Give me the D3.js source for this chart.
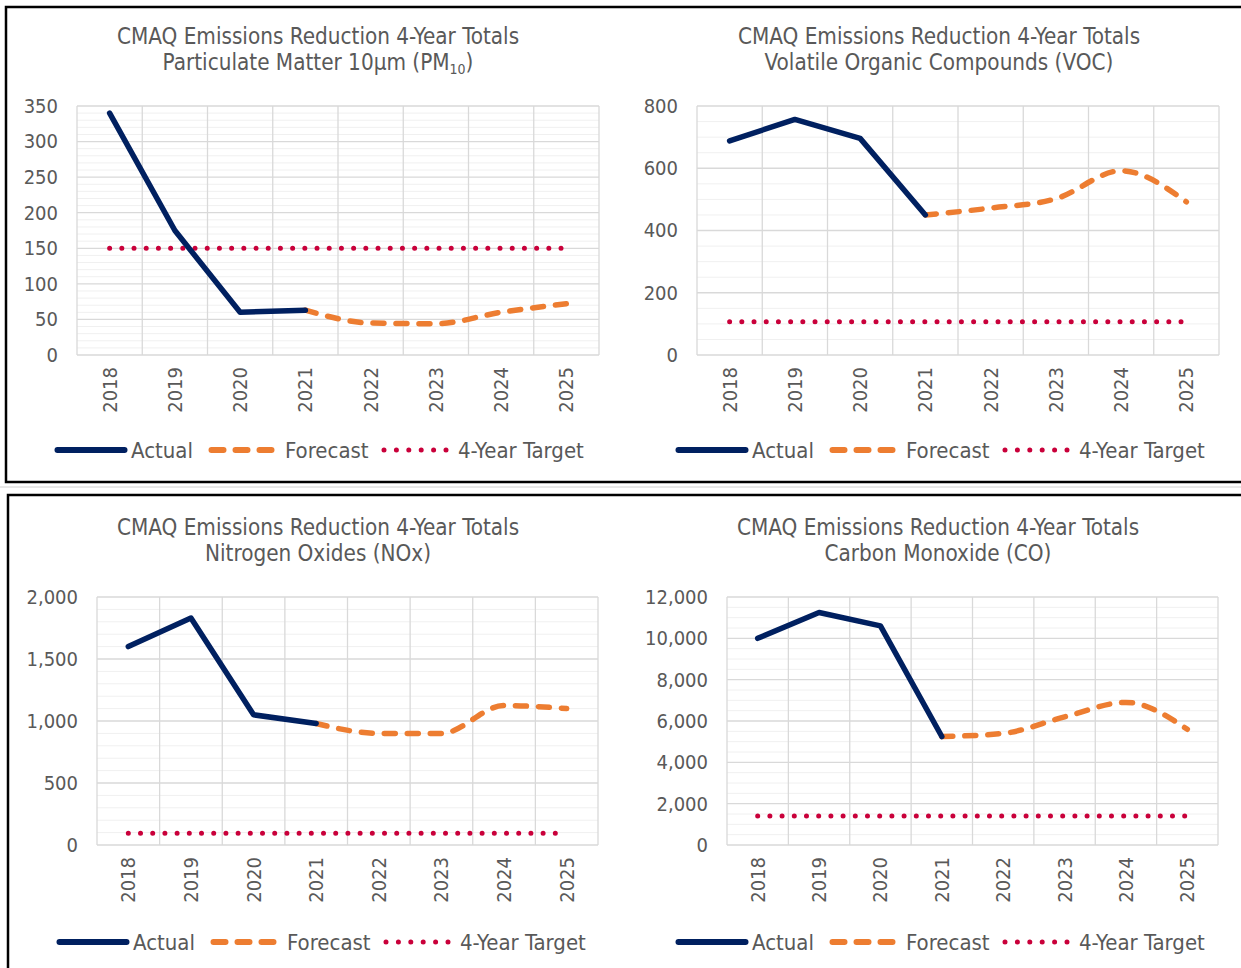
<!DOCTYPE html>
<html>
<head>
<meta charset="utf-8">
<script src="https://cdn.jsdelivr.net/npm/d3@7"></script>
<style>
  html, body { margin: 0; padding: 0; background: #fff; }
  svg { display: block; }
  text { font-family: "DejaVu Sans Condensed", "DejaVu Sans", sans-serif; fill: #595959; }
</style>
</head>
<body>
<svg id="chart" width="1241" height="968"></svg>
<script>
// ---------- data ----------
const years = ["2018", "2019", "2020", "2021", "2022", "2023", "2024", "2025"];

const pm10Actual   = [340, 175, 60, 63, null, null, null, null];
const pm10Forecast = [null, null, null, 63, 45, 44, 60, 72];
const pm10Target   = [150, 150, 150, 150, 150, 150, 150, 150];
const pm10Ticks    = [0, 50, 100, 150, 200, 250, 300, 350];

const vocActual    = [688, 757, 696, 450, null, null, null, null];
const vocForecast  = [null, null, null, 450, 472, 502, 592, 492];
const vocTarget    = [107, 107, 107, 107, 107, 107, 107, 107];
const vocTicks     = [0, 200, 400, 600, 800];

const noxActual    = [1600, 1830, 1050, 980, null, null, null, null];
const noxForecast  = [null, null, null, 980, 900, 900, 1125, 1100];
const noxTarget    = [95, 95, 95, 95, 95, 95, 95, 95];
const noxTicks     = [0, 500, 1000, 1500, 2000];

const coActual     = [10000, 11250, 10600, 5250, null, null, null, null];
const coForecast   = [null, null, null, 5250, 5400, 6200, 6900, 5600];
const coTarget     = [1400, 1400, 1400, 1400, 1400, 1400, 1400, 1400];
const coTicks      = [0, 2000, 4000, 6000, 8000, 10000, 12000];

const titleLine1 = "CMAQ Emissions Reduction 4-Year Totals";
const legendLabels = ["Actual", "Forecast", "4-Year Target"];

// ---------- layout / style ----------
const C_ACTUAL = "#002060", C_FORE = "#ED7D31", C_TARGET = "#C9003A";
const GRID_MAJOR = "#d9d9d9", GRID_MINOR = "#f0f0f0";
const FONT = '"DejaVu Sans Condensed", "DejaVu Sans", sans-serif';

const panels = [
  { actual: pm10Actual, forecast: pm10Forecast, target: pm10Target, ticks: pm10Ticks, minor: 10,
    sub: ["Particulate Matter 10µm (PM", "10", ")"],
    plot: { l: 77, r: 599, t: 106, b: 355 }, tx: 318, ty: 36, lx: 55, ly: 450 },
  { actual: vocActual, forecast: vocForecast, target: vocTarget, ticks: vocTicks, minor: 50,
    sub: ["Volatile Organic Compounds (VOC)"],
    plot: { l: 697, r: 1219, t: 106, b: 355 }, tx: 939, ty: 36, lx: 676, ly: 450 },
  { actual: noxActual, forecast: noxForecast, target: noxTarget, ticks: noxTicks, minor: 100,
    sub: ["Nitrogen Oxides (NOx)"],
    plot: { l: 97, r: 598, t: 597, b: 845 }, tx: 318, ty: 527, lx: 57, ly: 942 },
  { actual: coActual, forecast: coForecast, target: coTarget, ticks: coTicks, minor: 500,
    sub: ["Carbon Monoxide (CO)"],
    plot: { l: 727, r: 1218, t: 597, b: 845 }, tx: 938, ty: 527, lx: 676, ly: 942 }
];

const svg = d3.select("#chart");
svg.append("rect").attr("width", 1241).attr("height", 968).attr("fill", "#fff");

// frames
svg.append("line").attr("x1", 0).attr("x2", 1241).attr("y1", 487).attr("y2", 487)
  .attr("stroke", "#d0d0d0").attr("stroke-width", 1);
svg.append("rect").attr("x", 6).attr("y", 7).attr("width", 1250).attr("height", 475)
  .attr("fill", "none").attr("stroke", "#000").attr("stroke-width", 2.5);
svg.append("rect").attr("x", 8).attr("y", 495).attr("width", 1250).attr("height", 500)
  .attr("fill", "none").attr("stroke", "#000").attr("stroke-width", 2.5);

const fmt = d3.format(",");

panels.forEach(p => {
  const g = svg.append("g");
  const { l, r, t, b } = p.plot;
  const max = d3.max(p.ticks);
  const x = d3.scaleBand().domain(years).range([l, r]).padding(0);
  const y = d3.scaleLinear().domain([0, max]).range([b, t]);
  const cx = d => x(d) + x.bandwidth() / 2;

  // minor gridlines
  const minorVals = d3.range(0, max + 1e-9, p.minor).filter(v => !p.ticks.includes(v));
  g.append("g").selectAll("line").data(minorVals).join("line")
    .attr("x1", l).attr("x2", r).attr("y1", d => y(d)).attr("y2", d => y(d))
    .attr("stroke", GRID_MINOR).attr("stroke-width", 1);
  // major gridlines
  g.append("g").selectAll("line").data(p.ticks).join("line")
    .attr("x1", l).attr("x2", r).attr("y1", d => y(d)).attr("y2", d => y(d))
    .attr("stroke", GRID_MAJOR).attr("stroke-width", 1.3);
  // vertical category boundaries
  const bounds = years.map(d => x(d)).concat([r]);
  g.append("g").selectAll("line").data(bounds).join("line")
    .attr("x1", d => d).attr("x2", d => d).attr("y1", t).attr("y2", b)
    .attr("stroke", GRID_MAJOR).attr("stroke-width", 1.3);

  // y axis
  const ya = g.append("g").attr("transform", `translate(${l},0)`)
    .call(d3.axisLeft(y).tickValues(p.ticks).tickFormat(fmt).tickSize(0).tickPadding(19));
  ya.select(".domain").remove();
  ya.selectAll("text").style("font-size", "20px").attr("fill", "#595959").style("font-family", FONT);

  // x axis
  const xa = g.append("g").attr("transform", `translate(0,${b})`)
    .call(d3.axisBottom(x).tickSize(0));
  xa.select(".domain").remove();
  xa.selectAll("text")
    .style("font-size", "20px").attr("fill", "#595959").style("font-family", FONT)
    .attr("text-anchor", "end")
    .attr("transform", "rotate(-90)")
    .attr("x", -12).attr("y", 0).attr("dy", "0.35em");

  // target line (dotted)
  const tdata = years.map((k, i) => ({ k, v: p.target[i] }));
  g.append("path").datum(tdata)
    .attr("d", d3.line().x(d => cx(d.k)).y(d => y(d.v)))
    .attr("fill", "none").attr("stroke", C_TARGET).attr("stroke-width", 5)
    .attr("stroke-linecap", "round").attr("stroke-dasharray", "0,12.2");

  // forecast (smoothed dashed)
  const fdata = years.map((k, i) => ({ k, v: p.forecast[i] })).filter(d => d.v != null);
  g.append("path").datum(fdata)
    .attr("d", d3.line().x(d => cx(d.k)).y(d => y(d.v)).curve(d3.curveMonotoneX))
    .attr("fill", "none").attr("stroke", C_FORE).attr("stroke-width", 5.5)
    .attr("stroke-linecap", "round").attr("stroke-dasharray", "11,12");

  // actual
  const adata = years.map((k, i) => ({ k, v: p.actual[i] })).filter(d => d.v != null);
  g.append("path").datum(adata)
    .attr("d", d3.line().x(d => cx(d.k)).y(d => y(d.v)))
    .attr("fill", "none").attr("stroke", C_ACTUAL).attr("stroke-width", 5.5)
    .attr("stroke-linejoin", "round").attr("stroke-linecap", "round");

  // title
  g.append("text").attr("x", p.tx).attr("y", p.ty).attr("text-anchor", "middle")
    .attr("dy", "0.35em").style("font-size", "22.3px").text(titleLine1);
  const t2 = g.append("text").attr("x", p.tx).attr("y", p.ty + 26).attr("text-anchor", "middle")
    .attr("dy", "0.35em").style("font-size", "22.3px");
  t2.append("tspan").text(p.sub[0]);
  if (p.sub.length > 1) {
    t2.append("tspan").style("font-size", "14px").attr("dy", 4).text(p.sub[1]);
    t2.append("tspan").attr("dy", -4).text(p.sub[2]);
  }

  // legend
  const lg = g.append("g").attr("transform", `translate(${p.lx},${p.ly})`);
  lg.append("line").attr("x1", 2.5).attr("x2", 69.5).attr("y1", 0).attr("y2", 0)
    .attr("stroke", C_ACTUAL).attr("stroke-width", 6).attr("stroke-linecap", "round");
  lg.append("text").attr("x", 76).attr("dy", "0.35em").style("font-size", "22px").text(legendLabels[0]);
  lg.append("line").attr("x1", 156.5).attr("x2", 216.5).attr("y1", 0).attr("y2", 0)
    .attr("stroke", C_FORE).attr("stroke-width", 6).attr("stroke-linecap", "round")
    .attr("stroke-dasharray", "12,12");
  lg.append("text").attr("x", 230).attr("dy", "0.35em").style("font-size", "22px").text(legendLabels[1]);
  lg.append("line").attr("x1", 329).attr("x2", 391).attr("y1", 0).attr("y2", 0)
    .attr("stroke", C_TARGET).attr("stroke-width", 5).attr("stroke-linecap", "round")
    .attr("stroke-dasharray", "0,12.4");
  lg.append("text").attr("x", 403).attr("dy", "0.35em").style("font-size", "22px").text(legendLabels[2]);
});
</script>
</body>
</html>
